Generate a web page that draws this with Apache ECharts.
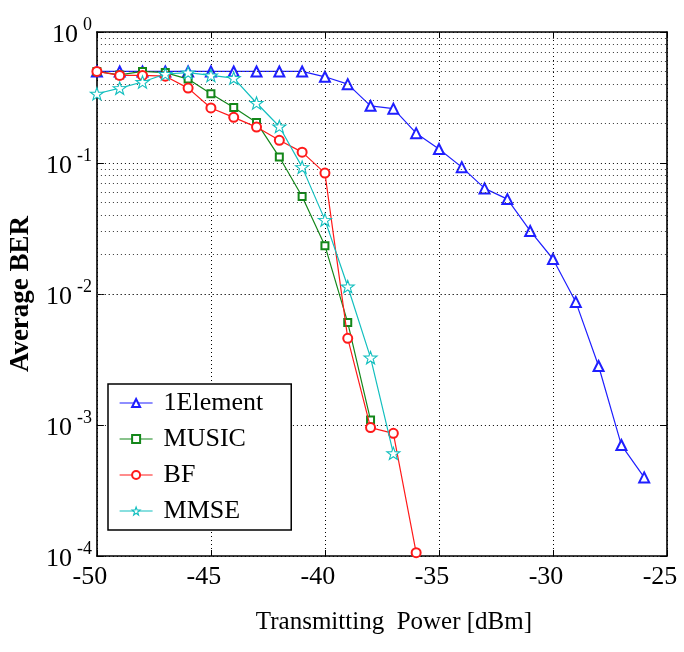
<!DOCTYPE html>
<html>
<head>
<meta charset="utf-8">
<title>Average BER vs Transmitting Power</title>
<script src="https://cdn.jsdelivr.net/npm/echarts@6/dist/echarts.min.js"></script>
<style>
  html, body { margin: 0; padding: 0; background: #fff; }
  #chart { width: 684px; height: 652px; }
</style>
</head>
<body>
<div id="chart"></div>
<script>
// Transmitting power sweep [dBm]
const power = [-50, -49, -48, -47, -46, -45, -44, -43, -42, -41, -40, -39, -38,
               -37, -36, -35, -34, -33, -32, -31, -30, -29, -28, -27, -26];

// Average BER per scheme (each list starts at -50 dBm)
const ber1Element = [0.5, 0.5, 0.5, 0.5, 0.5, 0.5, 0.5, 0.5, 0.5, 0.5,
                     0.455, 0.40, 0.273, 0.26, 0.169, 0.128, 0.093, 0.064,
                     0.053, 0.0303, 0.0185, 0.0087, 0.00282, 0.000703, 0.000398];
const berMUSIC = [0.5, 0.47, 0.5, 0.49, 0.437, 0.338, 0.265, 0.204, 0.111,
                  0.0555, 0.0234, 0.00605, 0.00109];
const berBF = [0.5, 0.466, 0.466, 0.46, 0.373, 0.263, 0.223, 0.188, 0.149,
               0.121, 0.0837, 0.00459, 0.000955, 0.000864, 0.000106];
const berMMSE = [0.338, 0.373, 0.415, 0.478, 0.49, 0.466, 0.445, 0.287, 0.19,
                 0.093, 0.0368, 0.0114, 0.00327, 0.000608];

// Axis ranges and labels
const xTicks = [-50, -45, -40, -35, -30, -25];
const yDecades = [1e-4, 1e-3, 1e-2, 1e-1, 1];
const xTitle = 'Transmitting  Power [dBm]';
const yTitle = 'Average BER';

const SERIF = '"Liberation Serif", "Times New Roman", Times, serif';
const STAR = 'path://M0,-10 L2.35,-3.24 L9.51,-3.09 L3.8,1.24 L5.88,8.09 L0,4 L-5.88,8.09 L-3.8,1.24 L-9.51,-3.09 L-2.35,-3.24 Z';

// Minor grid lines of the log axis: 2..9 times each decade
const minorGrid = [];
for (let d = 0; d < yDecades.length - 1; d++) {
  for (let m = 2; m <= 9; m++) minorGrid.push({ yAxis: yDecades[d] * m });
}

function pairs(values) {
  return values.map((v, i) => [power[i], v]);
}

const styles = [
  { name: '1Element', data: pairs(ber1Element), color: '#1f1fff', symbol: 'emptyTriangle', size: 10 },
  { name: 'MUSIC', data: pairs(berMUSIC), color: '#14871a', symbol: 'emptyRect', size: 7 },
  { name: 'BF', data: pairs(berBF), color: '#ff1a1a', symbol: 'emptyCircle', size: 9 },
  { name: 'MMSE', data: pairs(berMMSE), color: '#13bfbf', symbol: STAR, size: 13 }
];

const markerStyle = s => (s.symbol === STAR
  ? { color: '#fff', borderColor: s.color, borderWidth: 1.1 }
  : { color: s.color, borderColor: s.color, borderWidth: 1.1 });

const series = styles.map((s, i) => ({
  type: 'line',
  name: s.name,
  data: s.data,
  symbol: s.symbol,
  symbolSize: s.size,
  symbolKeepAspect: true,
  showAllSymbol: true,
  z: 3 + i,
  lineStyle: { color: s.color, width: 1.2 },
  itemStyle: markerStyle(s),
  emphasis: { disabled: true },
  animation: false
}));

// Dotted minor grid drawn through the y scale
series.push({
  type: 'line',
  name: 'grid',
  data: [],
  silent: true,
  z: 1,
  markLine: {
    silent: true,
    symbol: 'none',
    label: { show: false },
    animation: false,
    lineStyle: { color: '#333', width: 1, type: [1, 3] },
    emphasis: { disabled: true },
    data: minorGrid
  }
});

const expLabel = v => {
  const e = Math.round(Math.log10(v));
  return '{b|10}{e|' + e + '}';
};

const option = {
  backgroundColor: '#fff',
  animation: false,
  grid: { left: 92, right: 17, top: 32, bottom: 96 },
  legend: {
    data: styles.map(s => ({
      name: s.name,
      itemStyle: markerStyle(s),
      lineStyle: { color: s.color, width: 1.2 }
    })),
    orient: 'vertical',
    left: 108,
    top: 384,
    padding: [6, 28, 6, 11],
    itemGap: 10,
    itemWidth: 33,
    itemHeight: 10,
    backgroundColor: '#fff',
    borderColor: '#000',
    borderWidth: 1.5,
    borderRadius: 0,
    selectedMode: false,
    textStyle: { fontFamily: SERIF, fontSize: 26, color: '#000', lineHeight: 26, padding: [0, 0, 0, 6] }
  },
  xAxis: [{
    type: 'value',
    min: xTicks[0],
    max: xTicks[xTicks.length - 1],
    interval: 5,
    name: xTitle,
    nameLocation: 'middle',
    nameGap: 54,
    nameTextStyle: { fontFamily: SERIF, fontSize: 25, color: '#000', padding: [0, 0, 0, 24] },
    axisLine: { onZero: false, lineStyle: { color: '#000', width: 1.6 } },
    axisTick: { inside: true, length: 6, lineStyle: { color: '#000' } },
    axisLabel: { fontFamily: SERIF, fontSize: 26, color: '#000', margin: 8, padding: [0, 14, 0, 0] },
    splitLine: { show: true, lineStyle: { color: '#000', width: 1, type: [1, 3] } }
  }, {
    type: 'value',
    position: 'top',
    min: xTicks[0],
    max: xTicks[xTicks.length - 1],
    interval: 5,
    axisLine: { onZero: false, lineStyle: { color: '#000', width: 1.6 } },
    axisTick: { inside: true, length: 6, lineStyle: { color: '#000' } },
    axisLabel: { show: false },
    splitLine: { show: false }
  }],
  yAxis: [{
    type: 'log',
    logBase: 10,
    min: yDecades[0],
    max: yDecades[yDecades.length - 1],
    name: yTitle,
    nameLocation: 'middle',
    nameGap: 54,
    nameTextStyle: { fontFamily: SERIF, fontSize: 27, fontWeight: 'bold', color: '#000' },
    axisLine: { onZero: false, lineStyle: { color: '#000', width: 1.6 } },
    axisTick: { inside: true, length: 7, lineStyle: { color: '#000' } },
    axisLabel: {
      formatter: expLabel,
      margin: 5,
      rich: {
        b: { fontFamily: SERIF, fontSize: 26, color: '#000', verticalAlign: 'bottom', padding: [6, 0, 0, 0] },
        e: { fontFamily: SERIF, fontSize: 18, color: '#000', verticalAlign: 'top', padding: [0, 0, 0, 5] }
      }
    },
    splitLine: { show: true, lineStyle: { color: '#000', width: 1, type: [1, 3] } }
  }, {
    type: 'log',
    logBase: 10,
    position: 'right',
    min: yDecades[0],
    max: yDecades[yDecades.length - 1],
    axisLine: { onZero: false, lineStyle: { color: '#000', width: 1.6 } },
    axisTick: { inside: true, length: 7, lineStyle: { color: '#000' } },
    axisLabel: { show: false },
    splitLine: { show: false }
  }],
  series: series
};

const chart = echarts.init(document.getElementById('chart'), null, { renderer: 'canvas' });
chart.setOption(option);
</script>
</body>
</html>
